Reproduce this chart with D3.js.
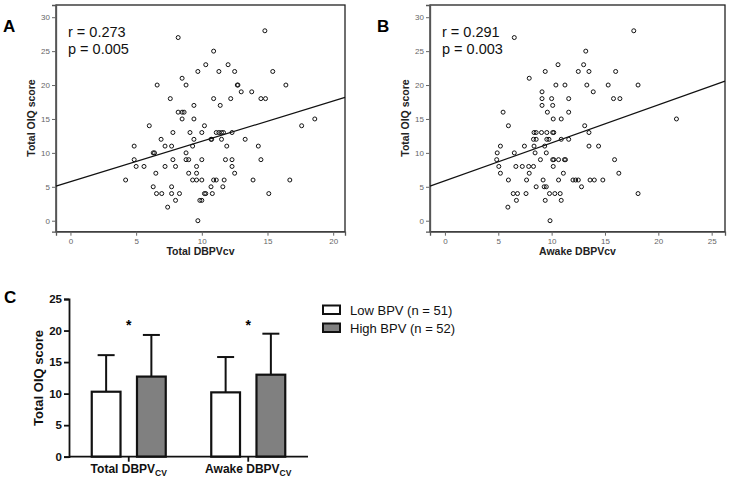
<!DOCTYPE html>
<html><head><meta charset="utf-8">
<script src="https://cdn.jsdelivr.net/npm/d3@7"></script>
<style>
body{margin:0;background:#fff;}
svg{font-family:"Liberation Sans",Arial,sans-serif;}
</style></head>
<body>
<svg id="c" width="729" height="480"></svg>
<script>
// Panel A: Total DBPVcv (x) vs Total OIQ score (y)
const aX = [14.8,8.2,10.9,10.3,12.0,9.7,11.3,12.5,15.4,8.5,6.6,8.8,12.7,12.75,16.4,13.0,13.8,7.6,10.9,12.2,14.5,14.85,9.4,11.4,8.2,8.5,8.65,8.5,9.4,18.6,6.0,10.2,17.6,7.8,9.1,10.0,11.1,11.3,11.5,11.65,12.3,6.9,9.4,10.7,10.75,11.5,13.3,4.85,7.2,7.7,9.3,11.9,14.3,6.3,6.4,8.8,4.85,7.8,8.8,9.0,10.0,11.8,12.3,14.5,5.0,5.6,7.2,8.0,9.6,12.3,6.5,9.0,9.6,12.5,4.2,9.3,9.6,10.0,10.9,11.1,11.7,13.9,16.7,6.3,7.7,10.7,11.6,6.55,6.95,7.7,8.3,10.2,10.3,10.8,15.1,8.0,9.85,10.0,7.4,9.7];
const aY = [28,27,25,23,23,22,22,22,22,21,20,20,20,20,20,19,19,18,18,18,18,18,17,17,16,16,16,15,15,15,14,14,14,13,13,13,13,13,13,13,13,12,12,12,12,12,12,11,11,11,11,11,11,10,10,10,9,9,9,9,9,9,9,9,8,8,8,8,8,8,7,7,7,7,6,6,6,6,6,6,6,6,6,5,5,5,5,4,4,4,4,4,4,4,4,3,3,3,2,0];
// Panel B: Awake DBPVcv (x) vs Total OIQ score (y)
const bX = [17.7,6.5,13.2,10.6,13.0,9.4,12.5,13.5,16.0,7.9,10.4,11.25,13.3,15.3,18.1,9.1,13.9,9.1,10.0,11.6,15.8,16.4,9.1,10.1,5.45,9.6,11.6,10.15,10.9,21.7,5.95,13.1,8.35,8.55,9.05,9.55,10.1,10.2,13.5,8.3,8.55,9.55,9.75,10.9,11.6,5.2,7.45,8.35,9.35,13.5,14.4,4.9,6.5,8.45,9.5,4.85,8.95,10.1,10.2,10.65,11.2,11.3,15.9,5.05,6.65,7.25,7.85,8.3,10.15,5.2,7.9,11.1,16.3,5.95,7.65,9.2,10.65,12.0,12.25,12.5,13.6,14.0,14.8,8.55,9.3,9.5,12.8,6.4,6.8,7.6,9.8,10.3,10.8,18.1,6.7,9.4,10.9,5.9,9.85];
const bY = [28,27,25,23,23,22,22,22,22,21,20,20,20,20,20,19,19,18,18,18,18,18,17,17,16,16,16,15,15,15,14,14,13,13,13,13,13,13,13,12,12,12,12,12,12,11,11,11,11,11,11,10,10,10,10,9,9,9,9,9,9,9,9,8,8,8,8,8,8,7,7,7,7,6,6,6,6,6,6,6,6,6,6,5,5,5,5,4,4,4,4,4,4,4,3,3,3,2,0];
// regression lines [intercept, slope]
const aFit = [5.75, 0.595];
const bFit = [5.88, 0.56];
const aStats = ["r = 0.273", "p = 0.005"];
const bStats = ["r = 0.291", "p = 0.003"];
const aXTicks = [0,5,10,15,20];
const bXTicks = [0,5,10,15,20,25];
const scatterYTicks = [0,5,10,15,20,25,30];

// Panel C
const barCats = ["Total", "Awake"];
const barGroups = ["Low BPV (n = 51)", "High BPV (n = 52)"];
const lowMean = [10.3, 10.2];
const lowSD = [5.8, 5.6];
const highMean = [12.7, 13.0];
const highSD = [6.6, 6.5];
const barYTicks = [0,5,10,15,20,25];

const svg = d3.select("#c");

function scatter(opt){
  const g = svg.append("g");
  const x = d3.scaleLinear().domain(opt.xd).range([opt.x0, opt.x1]);
  const y = d3.scaleLinear().domain([-1.62, 31.8]).range([231.7, 5]);
  g.append("rect").attr("x", opt.x0).attr("y", 5).attr("width", opt.x1-opt.x0).attr("height", 231.7-5)
    .attr("fill","none").attr("stroke","#222").attr("stroke-width",1.3);
  const ya = g.append("g").attr("transform",`translate(${opt.x0},0)`)
    .call(d3.axisLeft(y).tickValues(scatterYTicks).tickSize(4).tickPadding(2));
  const xa = g.append("g").attr("transform",`translate(0,231.7)`)
    .call(d3.axisBottom(x).tickValues(opt.xt).tickSize(4).tickPadding(3));
  [ya, xa].forEach(a=>{
    a.select(".domain").attr("stroke","#555").attr("stroke-width",1.3);
    a.selectAll(".tick line").attr("stroke","#666");
    a.selectAll(".tick text").attr("fill","#666").attr("font-size",8);
  });
  g.selectAll("circle.p").data(opt.xs.map((d,i)=>[d,opt.ys[i]])).join("circle")
    .attr("cx",d=>x(d[0])).attr("cy",d=>y(d[1])).attr("r",2)
    .attr("fill","none").attr("stroke","#111").attr("stroke-width",1);
  const xd = opt.xd;
  g.append("line").attr("x1",x(xd[0])).attr("y1",y(opt.fit[0]+opt.fit[1]*xd[0]))
    .attr("x2",x(xd[1])).attr("y2",y(opt.fit[0]+opt.fit[1]*xd[1]))
    .attr("stroke","#111").attr("stroke-width",1.2);
  g.append("text").attr("x",opt.x0+12).attr("y",37).attr("font-size",14.5).attr("fill","#111").text(opt.stats[0]);
  g.append("text").attr("x",opt.x0+12).attr("y",54).attr("font-size",14.5).attr("fill","#111").text(opt.stats[1]);
  g.append("text").attr("transform",`translate(${opt.x0-21},118) rotate(-90)`).attr("text-anchor","middle")
    .attr("font-size",10.5).attr("font-weight","bold").attr("fill","#222").text("Total OIQ score");
  g.append("text").attr("x",(opt.x0+opt.x1)/2).attr("y",255).attr("text-anchor","middle")
    .attr("font-size",10.5).attr("font-weight","bold").attr("fill","#222").text(opt.xlabel);
  g.append("text").attr("x",opt.letterX).attr("y",32).attr("font-size",17).attr("font-weight","bold").text(opt.letter);
}

scatter({xd:[-1.1,20.9], x0:56, x1:345, xt:aXTicks, xs:aX, ys:aY, fit:aFit, stats:aStats, xlabel:"Total DBPVcv", letter:"A", letterX:3});
scatter({xd:[-1.4,26.25], x0:430, x1:725, xt:bXTicks, xs:bX, ys:bY, fit:bFit, stats:bStats, xlabel:"Awake DBPVcv", letter:"B", letterX:377});

// Panel C
(function(){
  const g = svg.append("g");
  const y = d3.scaleLinear().domain([0,25]).range([456.7, 299]);
  const x = d3.scaleBand().domain(barCats).range([69, 308]).padding(0);
  const xi = d3.scaleBand().domain(barGroups).range([-38, 38]).paddingInner(0.32);
  const data = [];
  barCats.forEach((c,i)=>{
    data.push({c, grp:barGroups[0], m:lowMean[i], sd:lowSD[i], fill:"#fff"});
    data.push({c, grp:barGroups[1], m:highMean[i], sd:highSD[i], fill:"#808080"});
  });
  const cx = d => x(d.c) + x.bandwidth()/2 + xi(d.grp);
  data.forEach(d=>{
    const mx = cx(d) + xi.bandwidth()/2;
    g.append("line").attr("x1",mx).attr("x2",mx).attr("y1",y(d.m)).attr("y2",y(d.m+d.sd))
      .attr("stroke","#111").attr("stroke-width",2);
    g.append("line").attr("x1",mx-8.5).attr("x2",mx+8.5).attr("y1",y(d.m+d.sd)).attr("y2",y(d.m+d.sd))
      .attr("stroke","#111").attr("stroke-width",2);
  });
  g.selectAll("rect.bar").data(data).join("rect")
    .attr("x",d=>cx(d)+1).attr("y",d=>y(d.m)).attr("width",xi.bandwidth()-2).attr("height",d=>y(0)-y(d.m))
    .attr("fill",d=>d.fill).attr("stroke","#111").attr("stroke-width",2.2);
  const ya = g.append("g").attr("transform","translate(69,0)")
    .call(d3.axisLeft(y).tickValues(barYTicks).tickSize(5).tickPadding(2));
  ya.select(".domain").attr("stroke","#111").attr("stroke-width",1.8);
  ya.selectAll(".tick line").attr("stroke","#111").attr("stroke-width",1.8);
  ya.selectAll(".tick text").attr("fill","#111").attr("font-size",11.5).attr("font-weight","bold");
  const xa = g.append("g").attr("transform","translate(0,456.7)")
    .call(d3.axisBottom(x).tickSize(5).tickFormat(""));
  xa.select(".domain").attr("stroke","#111").attr("stroke-width",1.8).attr("d","M69,0H308");
  xa.selectAll(".tick line").attr("stroke","#111").attr("stroke-width",1.8);
  const labs = {Total:"Total DBPV", Awake:"Awake DBPV"};
  barCats.forEach(c=>{
    const t = g.append("text").attr("x",x(c)+x.bandwidth()/2).attr("y",473).attr("text-anchor","middle")
      .attr("font-size",12).attr("font-weight","bold").attr("fill","#111");
    t.append("tspan").text(labs[c]);
    t.append("tspan").attr("font-size",8.5).attr("dy",3).text("CV");
    g.append("text").attr("x",x(c)+x.bandwidth()/2).attr("y",330).attr("text-anchor","middle")
      .attr("font-size",14).attr("font-weight","bold").attr("fill","#000").text("*");
  });
  g.append("text").attr("transform","translate(43,378) rotate(-90)").attr("text-anchor","middle")
    .attr("font-size",13).attr("font-weight","bold").attr("fill","#111").text("Total OIQ score");
  g.append("text").attr("x",4).attr("y",303).attr("font-size",17).attr("font-weight","bold").text("C");
  barGroups.forEach((gname,i)=>{
    g.append("rect").attr("x",323).attr("y",305.5+i*18).attr("width",17).attr("height",8.5)
      .attr("fill", i===0?"#fff":"#808080").attr("stroke","#111").attr("stroke-width",2);
    g.append("text").attr("x",350).attr("y",314.5+i*18).attr("font-size",13).attr("fill","#111").text(gname);
  });
})();
</script>
</body></html>
